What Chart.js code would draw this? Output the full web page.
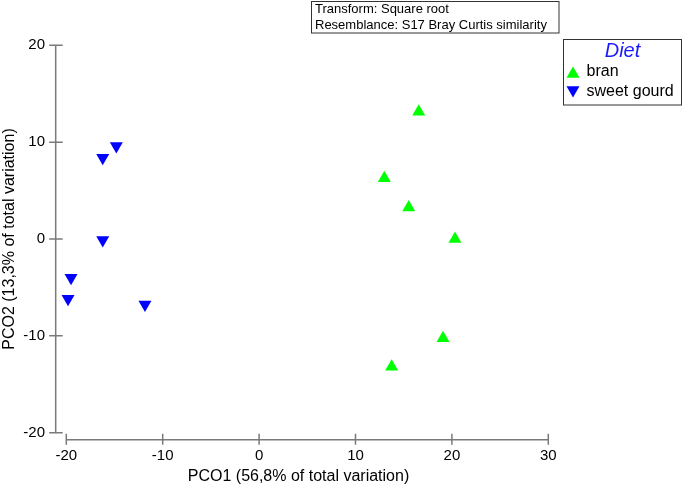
<!DOCTYPE html>
<html>
<head>
<meta charset="utf-8">
<script src="https://cdn.jsdelivr.net/npm/chart.js@4.4.1/dist/chart.umd.min.js"></script>
<style>
html,body{margin:0;padding:0;background:#fff;}
#wrap{position:relative;width:685px;height:486px;}
</style>
</head>
<body>
<div id="wrap"><canvas id="c" width="685" height="486"></canvas></div>
<script>
// ---- data ----
const branX = [16.56, 12.99, 15.52, 20.32, 19.08, 13.75];
const branY = [13.15, 6.27, 3.24, 0.01, -10.25, -13.18];
const gourdX = [-14.81, -16.22, -16.22, -19.51, -19.82, -11.84];
const gourdY = [9.59, 8.38, -0.11, -4.01, -6.17, -6.76];
const seriesNames = ['bran', 'sweet gourd'];
const legendTitle = 'Diet';
const xTicks = [-20, -10, 0, 10, 20, 30];
const yTicks = [-20, -10, 0, 10, 20];
const xTitle = 'PCO1 (56,8% of total variation)';
const yTitle = 'PCO2 (13,3% of total variation)';
const infoLines = ['Transform: Square root', 'Resemblance: S17 Bray Curtis similarity'];

const FONT = '"Liberation Sans", Arial, sans-serif';
const toPts = (xs, ys) => xs.map((x, i) => ({x: x, y: ys[i]}));

const axisPlugin = {
  id: 'offsetAxes',
  afterDraw(chart) {
    const ctx = chart.ctx;
    const xs = chart.scales.x, ys = chart.scales.y;
    const ca = chart.chartArea;
    ctx.save();
    ctx.strokeStyle = '#7a7a7a';
    ctx.lineWidth = 1.5;
    // y axis
    const ax = ca.left - 10.6;
    ctx.beginPath();
    ctx.moveTo(ax, ys.getPixelForValue(yTicks[yTicks.length - 1]));
    ctx.lineTo(ax, ys.getPixelForValue(yTicks[0]));
    yTicks.forEach(v => {
      const p = ys.getPixelForValue(v);
      ctx.moveTo(ax - 6.5, p); ctx.lineTo(ax + 7, p);
    });
    ctx.stroke();
    // x axis
    const ay = ca.bottom + 7;
    ctx.beginPath();
    ctx.moveTo(xs.getPixelForValue(xTicks[0]), ay);
    ctx.lineTo(xs.getPixelForValue(xTicks[xTicks.length - 1]), ay);
    xTicks.forEach(v => {
      const p = xs.getPixelForValue(v);
      ctx.moveTo(p, ay - 6); ctx.lineTo(p, ay + 5);
    });
    ctx.stroke();

    // x axis title
    ctx.fillStyle = '#000';
    ctx.font = '16px ' + FONT;
    ctx.textBaseline = 'middle';
    ctx.textAlign = 'center';
    ctx.fillText(xTitle, 298.5, 476.5);

    // info box
    ctx.lineWidth = 1;
    ctx.strokeStyle = '#333';
    ctx.strokeRect(311.5, 1.5, 247.5, 31.5);
    ctx.font = '13px ' + FONT;
    ctx.textAlign = 'left';
    ctx.fillText(infoLines[0], 315, 9);
    ctx.fillText(infoLines[1], 315, 25.5);

    // legend
    ctx.strokeRect(563.5, 39.5, 118, 65.5);
    ctx.fillStyle = '#1a1aff';
    ctx.font = 'italic 20px ' + FONT;
    ctx.textAlign = 'center';
    ctx.fillText(legendTitle, 622.5, 51.5);
    ctx.textAlign = 'left';
    ctx.font = '16px ' + FONT;
    const ys2 = [72, 92];
    chart.data.datasets.forEach((ds, i) => {
      const cy = ys2[i];
      ctx.fillStyle = ds.backgroundColor;
      const r = 7.5;
      const rot = ds.rotation || 0;
      const cyc = rot ? cy - 1.9 : cy + 1.9;
      ctx.beginPath();
      let rad = rot * Math.PI / 180;
      for (let k = 0; k < 3; k++) {
        const px = 573 + Math.sin(rad) * r, py = cyc - Math.cos(rad) * r;
        if (k === 0) ctx.moveTo(px, py); else ctx.lineTo(px, py);
        rad += 2 * Math.PI / 3;
      }
      ctx.closePath();
      ctx.fill();
      ctx.fillStyle = '#000';
      ctx.fillText(ds.label, 586.5, cy);
    });
    ctx.restore();
  }
};

new Chart(document.getElementById('c'), {
  type: 'scatter',
  data: {
    datasets: [
      {label: seriesNames[0], data: toPts(branX, branY), pointStyle: 'triangle', rotation: 0, clip: false,
       backgroundColor: '#00ff00', borderColor: '#00ff00', borderWidth: 0, pointRadius: 7.5, pointHoverRadius: 7.5},
      {label: seriesNames[1], data: toPts(gourdX, gourdY), pointStyle: 'triangle', rotation: 180, clip: false,
       backgroundColor: '#0000ff', borderColor: '#0000ff', borderWidth: 0, pointRadius: 7.5, pointHoverRadius: 7.5}
    ]
  },
  options: {
    responsive: false,
    animation: false,
    devicePixelRatio: 1,
    layout: {padding: {top: 45.3, right: 136.7, left: 0, bottom: 0}},
    plugins: {legend: {display: false}, tooltip: {enabled: false}},
    scales: {
      x: {
        type: 'linear', min: -20, max: 30,
        afterBuildTicks: s => { s.ticks = xTicks.map(v => ({value: v})); },
        afterFit: s => { s.height = 53.3; },
        grid: {display: false, drawTicks: false},
        border: {display: false},
        ticks: {color: '#000', font: {family: FONT, size: 15}, padding: 14, maxRotation: 0},
        title: {display: false, text: xTitle}
      },
      y: {
        type: 'linear', min: -20, max: 20,
        afterBuildTicks: s => { s.ticks = yTicks.map(v => ({value: v})); },
        afterFit: s => { s.width = 66.3; },
        grid: {display: false, drawTicks: false},
        border: {display: false},
        ticks: {color: '#000', font: {family: FONT, size: 15}, padding: 21.3},
        title: {display: true, text: yTitle, color: '#000', font: {family: FONT, size: 16}, padding: {top: 0, bottom: 0}}
      }
    }
  },
  plugins: [axisPlugin]
});
</script>
</body>
</html>
